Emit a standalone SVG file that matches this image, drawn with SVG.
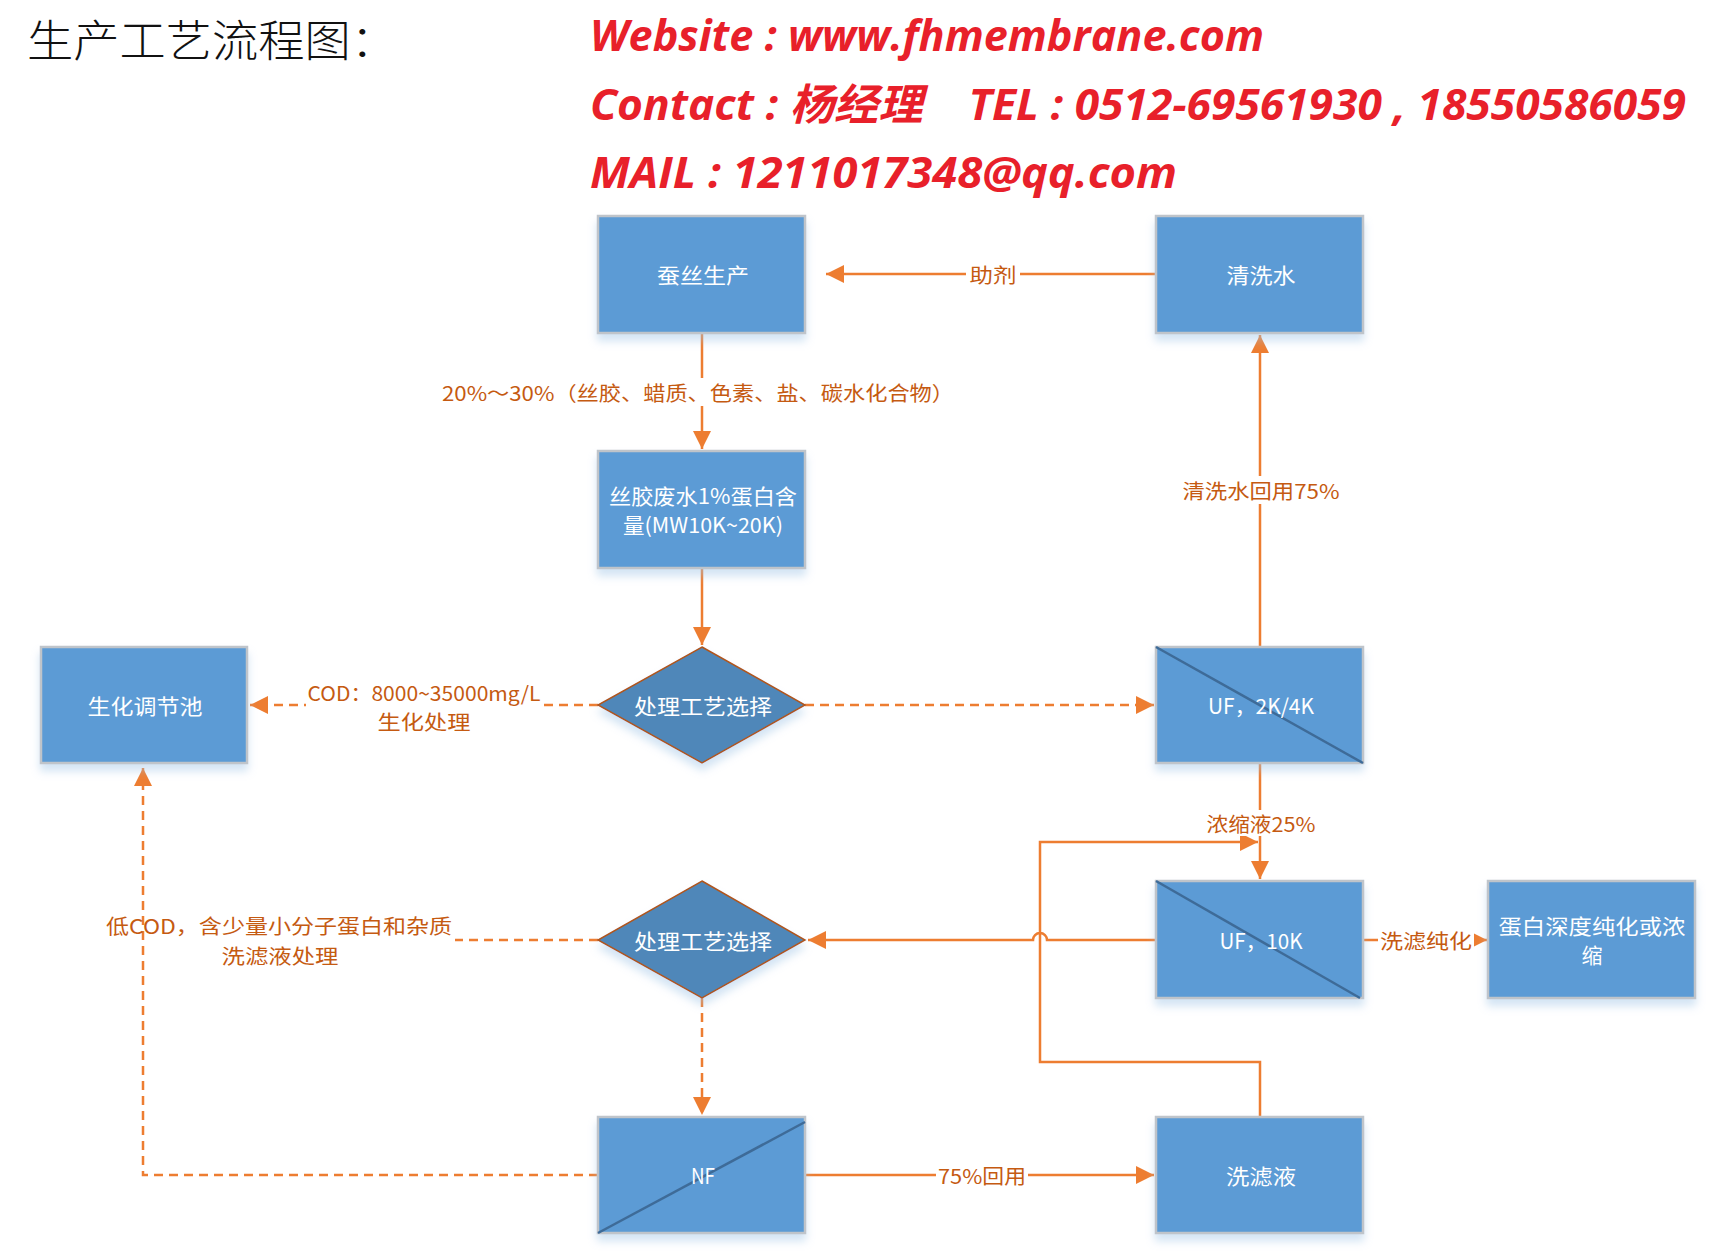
<svg xmlns="http://www.w3.org/2000/svg" width="1720" height="1260" viewBox="0 0 1720 1260">
<defs>
<style>
.box{fill:#5B9BD5;stroke:#BFC4CA;stroke-width:2.5}
.dia{fill:#4F87B9;stroke:#B0561C;stroke-width:1.5}
.diag{stroke:#3E6B98;stroke-width:2.5}
.nt{font-family:"Noto Sans CJK SC","Noto Sans",sans-serif;font-size:21px;fill:#FFFFFF;text-anchor:middle;dominant-baseline:central}
.lb{font-family:"Noto Sans CJK SC","Noto Sans",sans-serif;font-size:20px;fill:#C55A11;text-anchor:middle;dominant-baseline:central}
.c{fill:none;stroke:#ED7D31;stroke-width:2.5}
.d{stroke-dasharray:9,6}
.hd{font-family:"Open Sans","Noto Sans CJK SC",sans-serif;font-weight:bold;font-style:italic;font-size:43px;fill:#E8202A}
.bg{fill:#FFFFFF}
</style>
<marker id="ar" viewBox="0 0 10 10" refX="10" refY="5" markerUnits="userSpaceOnUse" markerWidth="18" markerHeight="18" orient="auto">
<path d="M0,0 L10,5 L0,10 z" fill="#ED7D31"/>
</marker>
<filter id="sh" x="-10%" y="-10%" width="120%" height="130%">
<feDropShadow dx="0" dy="7" stdDeviation="4" flood-color="#9DC3E6" flood-opacity="0.45"/>
</filter>
</defs>
<rect width="1720" height="1260" fill="#FFFFFF"/>

<g id="header">
<text x="27" y="57" font-family="'Noto Sans CJK SC',sans-serif" font-weight="300" font-size="44" fill="#111111" textLength="370" lengthAdjust="spacingAndGlyphs">生产工艺流程图：</text>
<text class="hd" x="590" y="51" textLength="674" lengthAdjust="spacingAndGlyphs">Website : www.fhmembrane.com</text>
<text class="hd" x="590" y="120" xml:space="preserve" textLength="1096" lengthAdjust="spacingAndGlyphs">Contact : 杨经理    TEL : 0512-69561930 , 18550586059</text>
<text class="hd" x="590" y="188" textLength="587" lengthAdjust="spacingAndGlyphs">MAIL : 1211017348@qq.com</text>
</g>

<g id="connectors">
<line class="c" x1="1156" y1="274" x2="826" y2="274" marker-end="url(#ar)"/>
<line class="c" x1="702" y1="333" x2="702" y2="449" marker-end="url(#ar)"/>
<line class="c" x1="702" y1="568" x2="702" y2="645" marker-end="url(#ar)"/>
<line class="c d" x1="598" y1="705" x2="250" y2="705" marker-end="url(#ar)"/>
<line class="c d" x1="805" y1="705" x2="1154" y2="705" marker-end="url(#ar)"/>
<line class="c" x1="1260" y1="647" x2="1260" y2="335" marker-end="url(#ar)"/>
<line class="c" x1="1260" y1="763" x2="1260" y2="879" marker-end="url(#ar)"/>
<polyline class="c" points="1260,1117 1260,1062 1040,1062 1040,842 1258,842" marker-end="url(#ar)"/>
<path class="c" d="M1156,940 H1047 A7,7 0 0 0 1033,940 H808" marker-end="url(#ar)"/>
<line class="c" x1="1364" y1="940" x2="1487" y2="940" marker-end="url(#ar)"/>
<line class="c d" x1="598" y1="940" x2="455" y2="940"/>
<line class="c d" x1="702" y1="998" x2="702" y2="1115" marker-end="url(#ar)"/>
<line class="c" x1="805" y1="1175" x2="1154" y2="1175" marker-end="url(#ar)"/>
<polyline class="c d" points="598,1175 143,1175 143,768" marker-end="url(#ar)"/>

<rect class="bg" x="966" y="260" width="54" height="28"/>
<text class="lb" x="993" y="274" textLength="47" lengthAdjust="spacingAndGlyphs">助剂</text>
<rect class="bg" x="440" y="378" width="518" height="28"/>
<text class="lb" x="698" y="392" textLength="512" lengthAdjust="spacingAndGlyphs">20%～30%（丝胶、蜡质、色素、盐、碳水化合物）</text>
<rect class="bg" x="1180" y="476" width="163" height="28"/>
<text class="lb" x="1261" y="490" textLength="157" lengthAdjust="spacingAndGlyphs">清洗水回用75%</text>
<rect class="bg" x="1205" y="810" width="113" height="26"/>
<text class="lb" x="1261" y="823" textLength="109" lengthAdjust="spacingAndGlyphs">浓缩液25%</text>
<rect class="bg" x="1378" y="927" width="96" height="26"/>
<text class="lb" x="1426" y="940" textLength="92" lengthAdjust="spacingAndGlyphs">洗滤纯化</text>
<rect class="bg" x="936" y="1162" width="92" height="26"/>
<text class="lb" x="982" y="1175" textLength="88" lengthAdjust="spacingAndGlyphs">75%回用</text>
<rect class="bg" x="306" y="680" width="238" height="52"/>
<text class="lb" x="424" y="692" textLength="233" lengthAdjust="spacingAndGlyphs">COD：8000~35000mg/L</text>
<text class="lb" x="424" y="721" textLength="93" lengthAdjust="spacingAndGlyphs">生化处理</text>
<text class="lb" x="279" y="925" textLength="346" lengthAdjust="spacingAndGlyphs">低COD，含少量小分子蛋白和杂质</text>
<text class="lb" x="280" y="955" textLength="117" lengthAdjust="spacingAndGlyphs">洗滤液处理</text>
</g>

<g id="n-cansi">
<rect class="box" x="598" y="216" width="207" height="117" filter="url(#sh)"/>
<text class="nt" x="703" y="274" textLength="92" lengthAdjust="spacingAndGlyphs">蚕丝生产</text>
</g>
<g id="n-qingxishui">
<rect class="box" x="1156" y="216" width="207" height="117" filter="url(#sh)"/>
<text class="nt" x="1261" y="274" textLength="69" lengthAdjust="spacingAndGlyphs">清洗水</text>
</g>
<g id="n-sijiao">
<rect class="box" x="598" y="451" width="207" height="117" filter="url(#sh)"/>
<text class="nt" x="703" y="495" textLength="188" lengthAdjust="spacingAndGlyphs">丝胶废水1%蛋白含</text>
<text class="nt" x="703" y="524" textLength="160" lengthAdjust="spacingAndGlyphs">量(MW10K~20K)</text>
</g>
<g id="n-choice1">
<polygon class="dia" points="702,647 805,705 702,763 598,705" filter="url(#sh)"/>
<text class="nt" x="703" y="705" textLength="138" lengthAdjust="spacingAndGlyphs">处理工艺选择</text>
</g>
<g id="n-shenghua">
<rect class="box" x="41" y="647" width="206" height="116" filter="url(#sh)"/>
<text class="nt" x="145" y="705" textLength="115" lengthAdjust="spacingAndGlyphs">生化调节池</text>
</g>
<g id="n-uf24">
<rect class="box" x="1156" y="647" width="207" height="116" filter="url(#sh)"/>
<line class="diag" x1="1156" y1="647" x2="1363" y2="763"/>
<text class="nt" x="1261" y="705" font-size="18" textLength="106" lengthAdjust="spacingAndGlyphs">UF，2K/4K</text>
</g>
<g id="n-uf10">
<rect class="box" x="1156" y="881" width="207" height="117" filter="url(#sh)"/>
<line class="diag" x1="1156" y1="881" x2="1360" y2="998"/>
<text class="nt" x="1261" y="940" font-size="18" textLength="83" lengthAdjust="spacingAndGlyphs">UF，10K</text>
</g>
<g id="n-danbai">
<rect class="box" x="1488" y="881" width="207" height="117" filter="url(#sh)"/>
<text class="nt" x="1592" y="925" textLength="187" lengthAdjust="spacingAndGlyphs">蛋白深度纯化或浓</text>
<text class="nt" x="1592" y="954">缩</text>
</g>
<g id="n-choice2">
<polygon class="dia" points="702,881 805,940 702,998 598,940" filter="url(#sh)"/>
<text class="nt" x="703" y="940" textLength="138" lengthAdjust="spacingAndGlyphs">处理工艺选择</text>
</g>
<g id="n-nf">
<rect class="box" x="598" y="1117" width="207" height="116" filter="url(#sh)"/>
<line class="diag" x1="598" y1="1233" x2="805" y2="1122"/>
<text class="nt" x="703" y="1175" font-size="18" textLength="24" lengthAdjust="spacingAndGlyphs">NF</text>
</g>
<g id="n-xilvye">
<rect class="box" x="1156" y="1117" width="207" height="116" filter="url(#sh)"/>
<text class="nt" x="1261" y="1175" textLength="70" lengthAdjust="spacingAndGlyphs">洗滤液</text>
</g>
</svg>
